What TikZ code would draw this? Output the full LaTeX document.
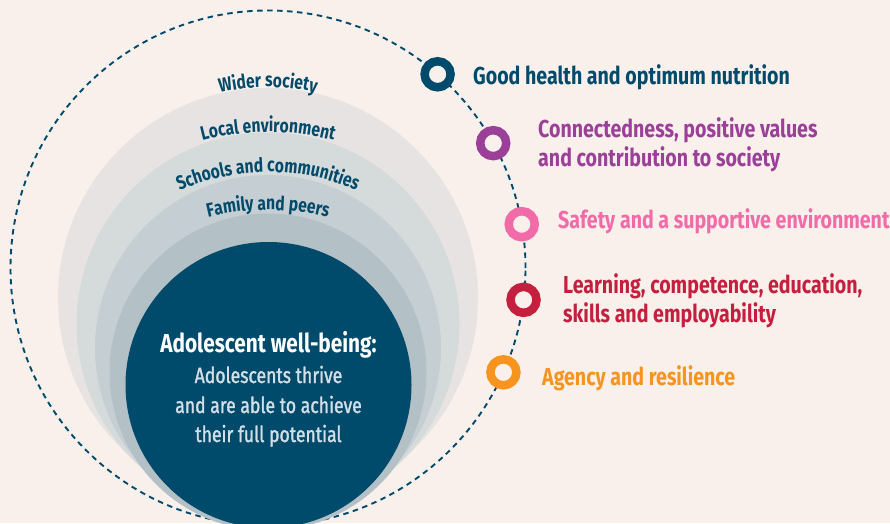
\documentclass[tikz,border=0pt]{standalone}
\usepackage{fontspec}
\setmainfont{Fira Sans}[FakeStretch=0.8]
\newfontfamily\subfamily{Fira Sans}[FakeStretch=0.8, FakeBold=1.4]
\usetikzlibrary{decorations.text}
\definecolor{bg}{HTML}{F9F0EB}
\definecolor{navy}{HTML}{004B6B}
\definecolor{bandA}{HTML}{E7E3E2}
\definecolor{bandB}{HTML}{D5DADB}
\definecolor{bandC}{HTML}{C5CFD3}
\definecolor{bandD}{HTML}{B3C1C7}
\definecolor{subtxt}{HTML}{D3DFE6}
\definecolor{cpurple}{HTML}{9C3F98}
\definecolor{cpink}{HTML}{F06BA8}
\definecolor{cred}{HTML}{C41F3E}
\definecolor{corange}{HTML}{F7941D}
\newcommand{\labfont}{\bfseries\fontsize{24.5}{28}\selectfont}
\newcommand{\arcfont}{\bfseries\fontsize{19.5}{22}\selectfont}
\tikzset{
  ring/.style={circle, minimum size=26pt, inner sep=0pt, line width=8.5pt, fill=bg},
  lab/.style={anchor=base west, inner sep=0pt, font=\labfont},
  arclab/.style={decorate, decoration={text along path, text align=center, text={#1}}},
  ctitle/.style={anchor=base, inner sep=0pt, text=white, font=\bfseries\fontsize{26}{30}\selectfont},
  csub/.style={anchor=base, inner sep=0pt, text=subtxt, font=\subfamily\fontsize{22}{28}\selectfont}
}
\begin{document}
\begin{tikzpicture}[x=1pt,y=1pt]
\useasboundingbox (0,0) rectangle (890,523);
\clip (0,0) rectangle (890,523);
\fill[bg] (0,0) rectangle (890,523);
\coordinate (c) at (268,255);
% dashed orbit
\draw[navy, line width=1.9pt, dash pattern=on 5.5pt off 4.5pt] (c) circle[radius=257.5];
% nested bands
\fill[bandA] (268,225) circle[radius=210];
\fill[bandB] (268,199) circle[radius=191.5];
\fill[bandC] (268,175) circle[radius=173];
\fill[bandD] (268,151) circle[radius=158.5];
\fill[navy] (268.5,138) circle[radius=143];
% curved labels
\coordinate (t1) at (268,236);
\coordinate (t2) at (268,131);
\coordinate (t3) at (268,131);
\coordinate (t4) at (268,63);
\path[arclab={|\color{navy}\arcfont|Wider society}] ([shift={(130:200)}]t1) arc[start angle=130, end angle=50, radius=200];
\path[arclab={|\color{navy}\arcfont|Local environment}] ([shift={(125:260)}]t2) arc[start angle=125, end angle=55, radius=260];
\path[arclab={|\color{navy}\arcfont|Schools and communities}] ([shift={(140:220)}]t3) arc[start angle=140, end angle=40, radius=220];
\path[arclab={|\color{navy}\arcfont|Family and peers}] ([shift={(125:250)}]t4) arc[start angle=125, end angle=55, radius=250];
% centre text
\node[ctitle] (title) at (268.5,171) {Adolescent well-being:};
\node[csub] (sub1) at (268.5,140) {Adolescents thrive};
\node[csub] (sub2) at (268.5,110) {and are able to achieve};
\node[csub] (sub3) at (268.5,81) {their full potential};
% rings
\node[ring, draw=navy] (r1) at ([shift={(48.8:257.5)}]c) {};
\node[ring, draw=cpurple] (r2) at ([shift={(29.0:257.5)}]c) {};
\node[ring, draw=cpink] (r3) at ([shift={(9.8:257.5)}]c) {};
\node[ring, draw=cred] (r4) at ([shift={(-7.1:257.5)}]c) {};
\node[ring, draw=corange] (r5) at ([shift={(-23.9:257.5)}]c) {};
% labels
\node[lab, text=navy] (good) at (473,438) {Good health and optimum nutrition};
\node[lab, text=cpurple] (conn1) at (538,385) {Connectedness, positive values};
\node[lab, text=cpurple] (conn2) at (538,357) {and contribution to society};
\node[lab, text=cpink] (safe) at (558,295) {Safety and a supportive environment};
\node[lab, text=cred] (learn1) at (563,230) {Learning, competence, education,};
\node[lab, text=cred] (learn2) at (563,201) {skills and employability};
\node[lab, text=corange] (agency) at (542,138) {Agency and resilience};
\end{tikzpicture}
\end{document}
